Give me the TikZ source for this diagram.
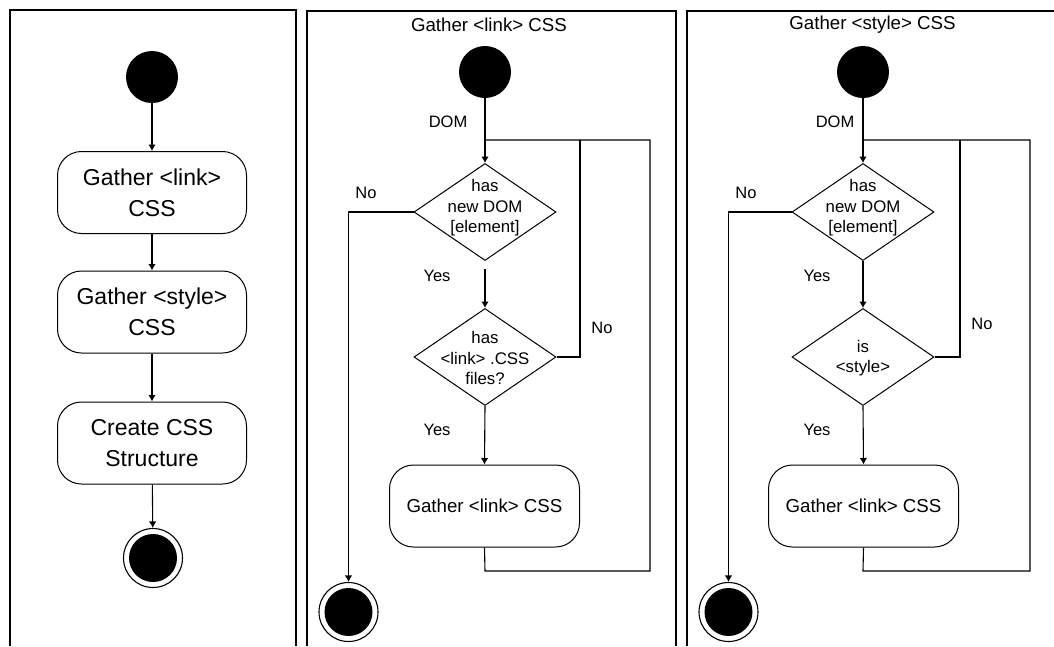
\documentclass[tikz,border=0pt]{standalone}
\usepackage{fontspec}
\setmainfont{Liberation Sans}
\usetikzlibrary{shapes.geometric,arrows.meta}

\tikzset{
  x=1pt, y=-1pt,
  every node/.style={inner sep=0pt},
  panel/.style={line width=1.2pt, draw=black},
  flow/.style={line width=1.1pt, draw=black},
  arrow/.style={flow, -{Latex[length=6.5pt,width=7.5pt]}},
  startdot/.style={circle, fill=black, minimum size=52pt},
  enddot/.style={circle, draw=black, line width=1.1pt, fill=white, minimum size=59pt,
    path picture={\fill[black] (path picture bounding box.center) circle (24pt);}},
  actbig/.style={rectangle, draw=black, line width=1pt, rounded corners=24pt,
    minimum width=189pt, minimum height=82pt, align=center,
    font=\fontsize{23}{31}\selectfont},
  act/.style={rectangle, draw=black, line width=1pt, rounded corners=24pt,
    minimum width=190pt, minimum height=82pt, align=center,
    font=\fontsize{18.7}{22}\selectfont},
  decision/.style={diamond, draw=black, line width=1pt, minimum width=142pt,
    minimum height=97pt},
  dtext/.style={align=center, font=\fontsize{16.8}{20.5}\selectfont},
  lbl/.style={font=\fontsize{16.5}{20}\selectfont},
  title/.style={font=\fontsize{18.7}{22}\selectfont}
}

\begin{document}
\begin{tikzpicture}
\useasboundingbox (0,0) rectangle (1054,646);
\fill[white] (0,0) rectangle (1054,646);

% three frames, open at the bottom edge
\draw[panel] (10,646) -- (10,10) -- (296,10) -- (296,646);
\draw[panel] (307,646) -- (307,11) -- (676,11) -- (676,646);
\draw[panel] (687,646) -- (687,11) -- (1054,11);

% ---------- overview activity ----------
\node[startdot] (s1) at (152,77) {};
\node[actbig] (g1) at (152,192.5) {Gather <link>\\CSS};
\node[actbig] (g2) at (152,312) {Gather <style>\\CSS};
\node[actbig] (g3) at (152,443) {Create CSS\\Structure};
\node[enddot] (e1) at (153,558) {};
\draw[arrow] (s1) -- (g1);
\draw[arrow] (g1) -- (g2);
\draw[arrow] (g2) -- (g3);
\draw[arrow] (g3) -- (e1);

% ---------- Gather <link> CSS ----------
\node[title] (t2) at (489,25) {Gather <link> CSS};
\node[startdot] (s2) at (485,72) {};
\coordinate (j2) at (485,140);
\node[decision] (d21) at (485,212) {};
\node[dtext] (d21t) at (485,208) {has\\new DOM\\{}[element]};
\node[decision] (d22) at (485,357) {};
\node[dtext] (d22t) at (485,358) {has\\<link> .CSS\\files?};
\node[act] (a2) at (484.5,506) {Gather <link> CSS};
\node[enddot] (e2) at (348.5,612) {};
\coordinate (n2) at (580,140);
\coordinate (b2) at (485,571);
\coordinate (r2) at (650,571);
\coordinate (t2r) at (650,140);

\draw[flow] (s2) -- (j2);
\draw[arrow] (j2) -- (d21.north);
\draw[arrow] (d21.west) -| (e2.north);
\draw[arrow, shorten <=8pt] (d21.south) -- (d22.north);
\draw[flow] (d22.east) -| (n2);
\draw[arrow] (d22.south) -- (a2.north);
\draw[flow] (a2.south) -- (b2) -- (r2) -- (t2r) -- (j2);

\node[lbl] (dom2) at (448,122) {DOM};
\node[lbl] (no21) at (366,193) {No};
\node[lbl] (yes21) at (437,276) {Yes};
\node[lbl] (no22) at (602,328) {No};
\node[lbl] (yes22) at (437,430) {Yes};

% ---------- Gather <style> CSS ----------
\node[title] (t3) at (872.5,25) {Gather <style> CSS};
\node[startdot] (s3) at (863,72) {};
\coordinate (j3) at (863,140);
\node[decision] (d31) at (863,212) {};
\node[dtext] (d31t) at (863,208) {has\\new DOM\\{}[element]};
\node[decision] (d32) at (863,357) {};
\node[dtext] (d32t) at (863,358) {is\\<style>};
\node[act] (a3) at (863.5,506) {Gather <link> CSS};
\node[enddot] (e3) at (728.5,612) {};
\coordinate (n3) at (960,140);
\coordinate (b3) at (863,571);
\coordinate (r3) at (1030,571);
\coordinate (t3r) at (1030,140);

\draw[flow] (s3) -- (j3);
\draw[arrow] (j3) -- (d31.north);
\draw[arrow] (d31.west) -| (e3.north);
\draw[arrow] (d31.south) -- (d32.north);
\draw[flow] (d32.east) -| (n3);
\draw[arrow] (d32.south) -- (a3.north);
\draw[flow] (a3.south) -- (b3) -- (r3) -- (t3r) -- (j3);

\node[lbl] (dom3) at (835,122) {DOM};
\node[lbl] (no31) at (746,193) {No};
\node[lbl] (yes31) at (817,276) {Yes};
\node[lbl] (no32) at (982,324) {No};
\node[lbl] (yes32) at (817,430) {Yes};
\end{tikzpicture}
\end{document}
